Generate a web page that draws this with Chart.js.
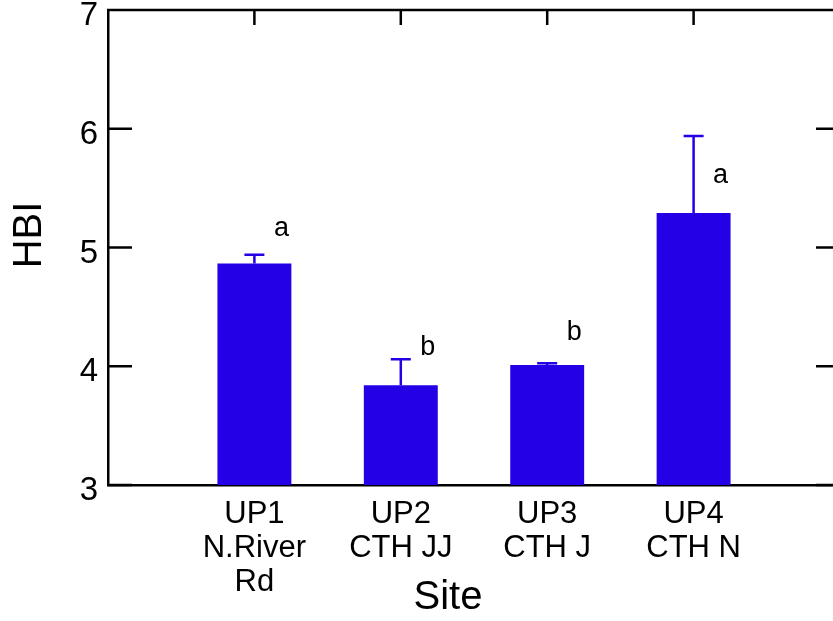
<!DOCTYPE html>
<html><head><meta charset="utf-8">
<script src="https://cdn.jsdelivr.net/npm/chart.js@4"></script>
<style>html,body{margin:0;padding:0;overflow:hidden;background:#fff}</style>
</head><body>
<canvas id="c" width="860" height="621" style="display:block;width:860px;height:621px"></canvas>
<script>
const sites = [['UP1','N.River','Rd'], ['UP2','CTH JJ'], ['UP3','CTH J'], ['UP4','CTH N']];
const hbiMean = [4.865, 3.84, 4.01, 5.29];
const hbiErr = [0.075, 0.22, 0.015, 0.65];
const groupLetters = ['a', 'b', 'b', 'a'];
const letterLevel = [5.16, 4.16, 4.28, 5.61];
const yMin = 3, yMax = 7, yStep = 1;

const BLUE = '#2300e6';
const FONT = '"Liberation Sans", Arial, sans-serif';

const labels = [''].concat(sites, ['']);
const values = [null].concat(hbiMean, [null]);

const decorations = {
  id: 'decorations',
  afterDatasetsDraw(chart) {
    const ctx = chart.ctx, xs = chart.scales.x, ys = chart.scales.y, a = chart.chartArea;
    ctx.save();
    // error bars
    ctx.strokeStyle = BLUE; ctx.lineWidth = 2.5;
    hbiMean.forEach((m, i) => {
      const x = xs.getPixelForValue(i + 1);
      const y0 = ys.getPixelForValue(m), y1 = ys.getPixelForValue(m + hbiErr[i]);
      ctx.beginPath(); ctx.moveTo(x, y0); ctx.lineTo(x, y1);
      ctx.moveTo(x - 10, y1); ctx.lineTo(x + 10, y1); ctx.stroke();
    });
    // letters
    ctx.fillStyle = '#000'; ctx.font = '27px ' + FONT;
    ctx.textAlign = 'center'; ctx.textBaseline = 'middle';
    groupLetters.forEach((t, i) => {
      ctx.fillText(t, xs.getPixelForValue(i + 1) + 27, ys.getPixelForValue(letterLevel[i]));
    });
    // frame: top line, right line, inward ticks
    ctx.strokeStyle = '#000'; ctx.lineWidth = 2.5;
    ctx.beginPath();
    ctx.moveTo(a.left - 1, a.top); ctx.lineTo(a.right, a.top);
    ctx.moveTo(a.right, a.top); ctx.lineTo(a.right, a.bottom);
    ys.ticks.forEach(t => {
      const y = ys.getPixelForValue(t.value);
      ctx.moveTo(a.left, y); ctx.lineTo(a.left + 24, y);
      ctx.moveTo(a.right - 24, y); ctx.lineTo(a.right, y);
    });
    hbiMean.forEach((m, i) => {
      const x = xs.getPixelForValue(i + 1);
      ctx.moveTo(x, a.top); ctx.lineTo(x, a.top + 15);
    });
    ctx.stroke();
    // axis titles
    ctx.fillStyle = '#000';
    ctx.font = '40px ' + FONT;
    ctx.textAlign = 'center'; ctx.textBaseline = 'middle';
    ctx.fillText('Site', 448, 598);
    ctx.save();
    ctx.translate(30, 235); ctx.rotate(-Math.PI / 2);
    ctx.font = '40px ' + FONT;
    ctx.fillText('HBI', 0, 0);
    ctx.restore();
    ctx.restore();
  }
};

new Chart(document.getElementById('c'), {
  type: 'bar',
  data: {
    labels: labels,
    datasets: [{ data: values, backgroundColor: BLUE, borderWidth: 0,
      barPercentage: 1, categoryPercentage: 0.505 }]
  },
  options: {
    responsive: false, animation: false, devicePixelRatio: 1,
    layout: { padding: { top: 10, right: 20, left: 0, bottom: 0 } },
    plugins: { legend: { display: false }, tooltip: { enabled: false } },
    scales: {
      x: {
        type: 'category', offset: false,
        grid: { display: true, drawOnChartArea: false, drawTicks: false },
        border: { display: true, color: '#000', width: 2.5 },
        ticks: { color: '#000', font: { family: FONT, size: 31, lineHeight: 1.1 },
          padding: 12, autoSkip: false, maxRotation: 0, minRotation: 0 },
        afterFit: s => { s.height = 136; s.paddingLeft = 0; s.paddingRight = 0; }
      },
      y: {
        min: yMin, max: yMax,
        grid: { display: true, drawOnChartArea: false, drawTicks: false },
        border: { display: true, color: '#000', width: 2.5 },
        ticks: { stepSize: yStep, color: '#000', font: { family: FONT, size: 33 }, padding: 10, labelOffset: 6 },
        afterFit: s => { s.width = 108; s.paddingTop = 0; s.paddingBottom = 0; }
      }
    }
  },
  plugins: [decorations]
});
</script>
</body></html>
